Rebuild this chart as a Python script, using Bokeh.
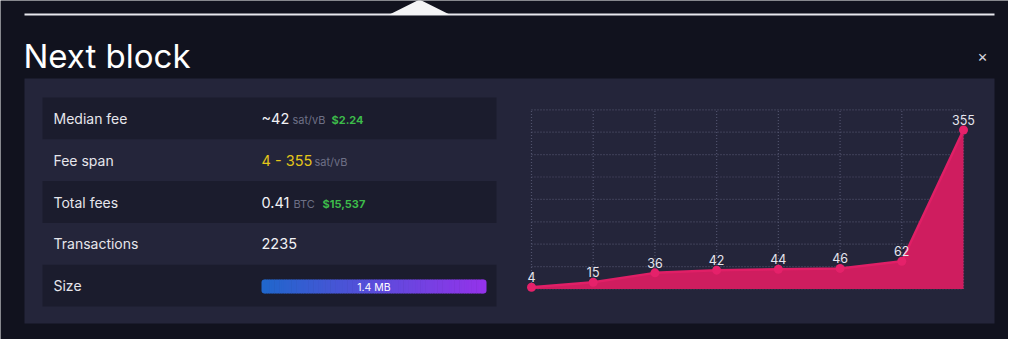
from bokeh.plotting import figure
from bokeh.models import Range1d, Quad
from bokeh.core.properties import value
from bokeh.embed import file_html
from bokeh.resources import INLINE

# ---------------- data ----------------
title = "Next block"
row_labels = ["Median fee", "Fee span", "Total fees", "Transactions", "Size"]
median_fee = "~42"
median_fee_unit = "sat/vB"
median_fee_usd = "$2.24"
fee_span = "4 - 355"
fee_span_unit = "sat/vB"
total_fees = "0.41"
total_fees_unit = "BTC"
total_fees_usd = "$15,537"
transactions = "2235"
size_label = "1.4 MB"
fee_values = [4, 15, 36, 42, 44, 46, 62, 355]
y_ticks = [0, 50, 100, 150, 200, 250, 300, 350, 400]

# ---------------- style / layout ----------------
FONT = "Inter"
BG = "#11121e"
PANEL = "#24253a"
ROW_DARK = "#1b1c2d"
W, H, OFF = 1008, 339, 0

p = figure(width=W, height=H, output_backend="svg", toolbar_location=None,
           x_range=Range1d(OFF, OFF + W), y_range=Range1d(OFF + H, OFF),
           x_axis_location=None, y_axis_location=None, min_border=0,
           background_fill_color=BG, border_fill_color=BG, outline_line_color=None)
p.grid.visible = False

# chart coordinate system mapped onto pixel layout
CX0, CX1 = 531.0, 963.0
CY0, CY1 = 288.5, 109.3
n = len(fee_values)
idx = list(range(n))
step = (CX1 - CX0) / (n - 1)
ymax = y_ticks[-1]
ppu = (CY0 - CY1) / ymax
p.extra_x_ranges = {"cx": Range1d((OFF - CX0) / step, (OFF + W - CX0) / step)}
p.extra_y_ranges = {"cy": Range1d((CY0 - (OFF + H)) / ppu, (CY0 - OFF) / ppu)}


def txt(x, y, s, size, color, weight="normal", align="left"):
    p.text(x=[x], y=[y], text=[s], text_font=value(FONT), text_font_size=f"{size}px",
           text_color=color, text_font_style=weight, text_align=align,
           text_baseline="middle")


# top rule with tab marker
p.segment(x0=[24], x1=[994], y0=[14], y1=[14], line_color="#e8e8ee", line_width=2)
p.patch(x=[388, 419, 450], y=[14.5, -1, 14.5], fill_color="#f4f4f6", line_color=None)

# title and close
txt(23, 55.5, title, 33, "#ffffff")
txt(982, 55, "\u00d7", 16, "#d4d4dc", align="center")

# panel
p.quad(left=[24], right=[994], top=[78], bottom=[323], fill_color=PANEL, line_color=None)

# table rows
ROW_TOP, ROW_H = 97.0, 41.8
TL, TR = 42, 496
for i in range(len(row_labels)):
    if i % 2 == 0:
        p.quad(left=[TL], right=[TR], top=[ROW_TOP + i * ROW_H],
               bottom=[ROW_TOP + (i + 1) * ROW_H], fill_color=ROW_DARK, line_color=None)
row_mid = [ROW_TOP + ROW_H * (i + 0.5) for i in range(len(row_labels))]
for i, lab in enumerate(row_labels):
    txt(53, row_mid[i], lab, 14, "#e6e6ec")

VX = 261
WHITE, GREY, GREEN, YELLOW = "#f2f2f5", "#6e7086", "#3dbb4a", "#e3c619"
SMALL_DY = 1.5
txt(VX, row_mid[0], median_fee, 14.5, WHITE)
txt(292, row_mid[0] + SMALL_DY, median_fee_unit, 11, GREY)
txt(331, row_mid[0] + SMALL_DY, median_fee_usd, 11, GREEN, weight="bold")
txt(VX, row_mid[1], fee_span, 14.5, YELLOW)
txt(314, row_mid[1] + SMALL_DY, fee_span_unit, 11, GREY)
txt(VX, row_mid[2], total_fees, 14.5, WHITE)
txt(293, row_mid[2] + SMALL_DY, total_fees_unit, 11, GREY)
txt(322, row_mid[2] + SMALL_DY, total_fees_usd, 11, GREEN, weight="bold")
txt(VX, row_mid[3], transactions, 14.5, WHITE)

# size bar with gradient and rounded caps
BX0, BX1, BY0, BY1 = 261, 486, 279, 293
RAD = 3
c0, c1 = (33, 102, 204), (147, 51, 234)
hex0 = "#%02x%02x%02x" % c0
hex1 = "#%02x%02x%02x" % c1
cap_kw = {"border_radius": RAD} if "border_radius" in Quad.properties() else {}
p.quad(left=[BX0, BX1 - 2 * RAD], right=[BX0 + 2 * RAD, BX1], top=[BY0, BY0],
       bottom=[BY1, BY1], fill_color=[hex0, hex1], line_color=None, **cap_kw)
NSEG = 90
gx0, gx1 = BX0 + RAD, BX1 - RAD
segw = (gx1 - gx0) / NSEG
lefts, rights, cols = [], [], []
for k in range(NSEG):
    t = k / (NSEG - 1)
    c = tuple(int(round(a + (b - a) * t)) for a, b in zip(c0, c1))
    lefts.append(gx0 + k * segw)
    rights.append(gx0 + (k + 1) * segw + (0.6 if k < NSEG - 1 else 0))
    cols.append("#%02x%02x%02x" % c)
p.quad(left=lefts, right=rights, top=[BY0] * NSEG, bottom=[BY1] * NSEG,
       fill_color=cols, line_color=None)
txt((BX0 + BX1) / 2, (BY0 + BY1) / 2 + 0.5, size_label, 10.5, "#ffffff", align="center")

# chart grid
GRID = dict(line_color="#50526c", line_width=1.2, line_dash="1 2",
            x_range_name="cx", y_range_name="cy")
p.segment(x0=[0] * len(y_ticks), x1=[n - 1] * len(y_ticks), y0=y_ticks, y1=y_ticks, **GRID)
p.segment(x0=idx, x1=idx, y0=[0] * n, y1=[ymax] * n, **GRID)

# area series
p.varea(x=idx, y1=[0] * n, y2=fee_values, fill_color="#cf1d5f",
        x_range_name="cx", y_range_name="cy")
p.line(x=idx, y=fee_values, line_color="#e01f66", line_width=2.5,
       x_range_name="cx", y_range_name="cy")
p.scatter(x=idx, y=fee_values, size=9, fill_color="#e5216a", line_color=None,
          x_range_name="cx", y_range_name="cy")
p.text(x=idx, y=fee_values, text=[str(v) for v in fee_values], y_offset=-10,
       text_font=value(FONT), text_font_size="12.5px", text_color="#e6e6ee",
       text_align="center", text_baseline="middle",
       x_range_name="cx", y_range_name="cy")

open("out.html", "w").write(file_html(p, INLINE))
